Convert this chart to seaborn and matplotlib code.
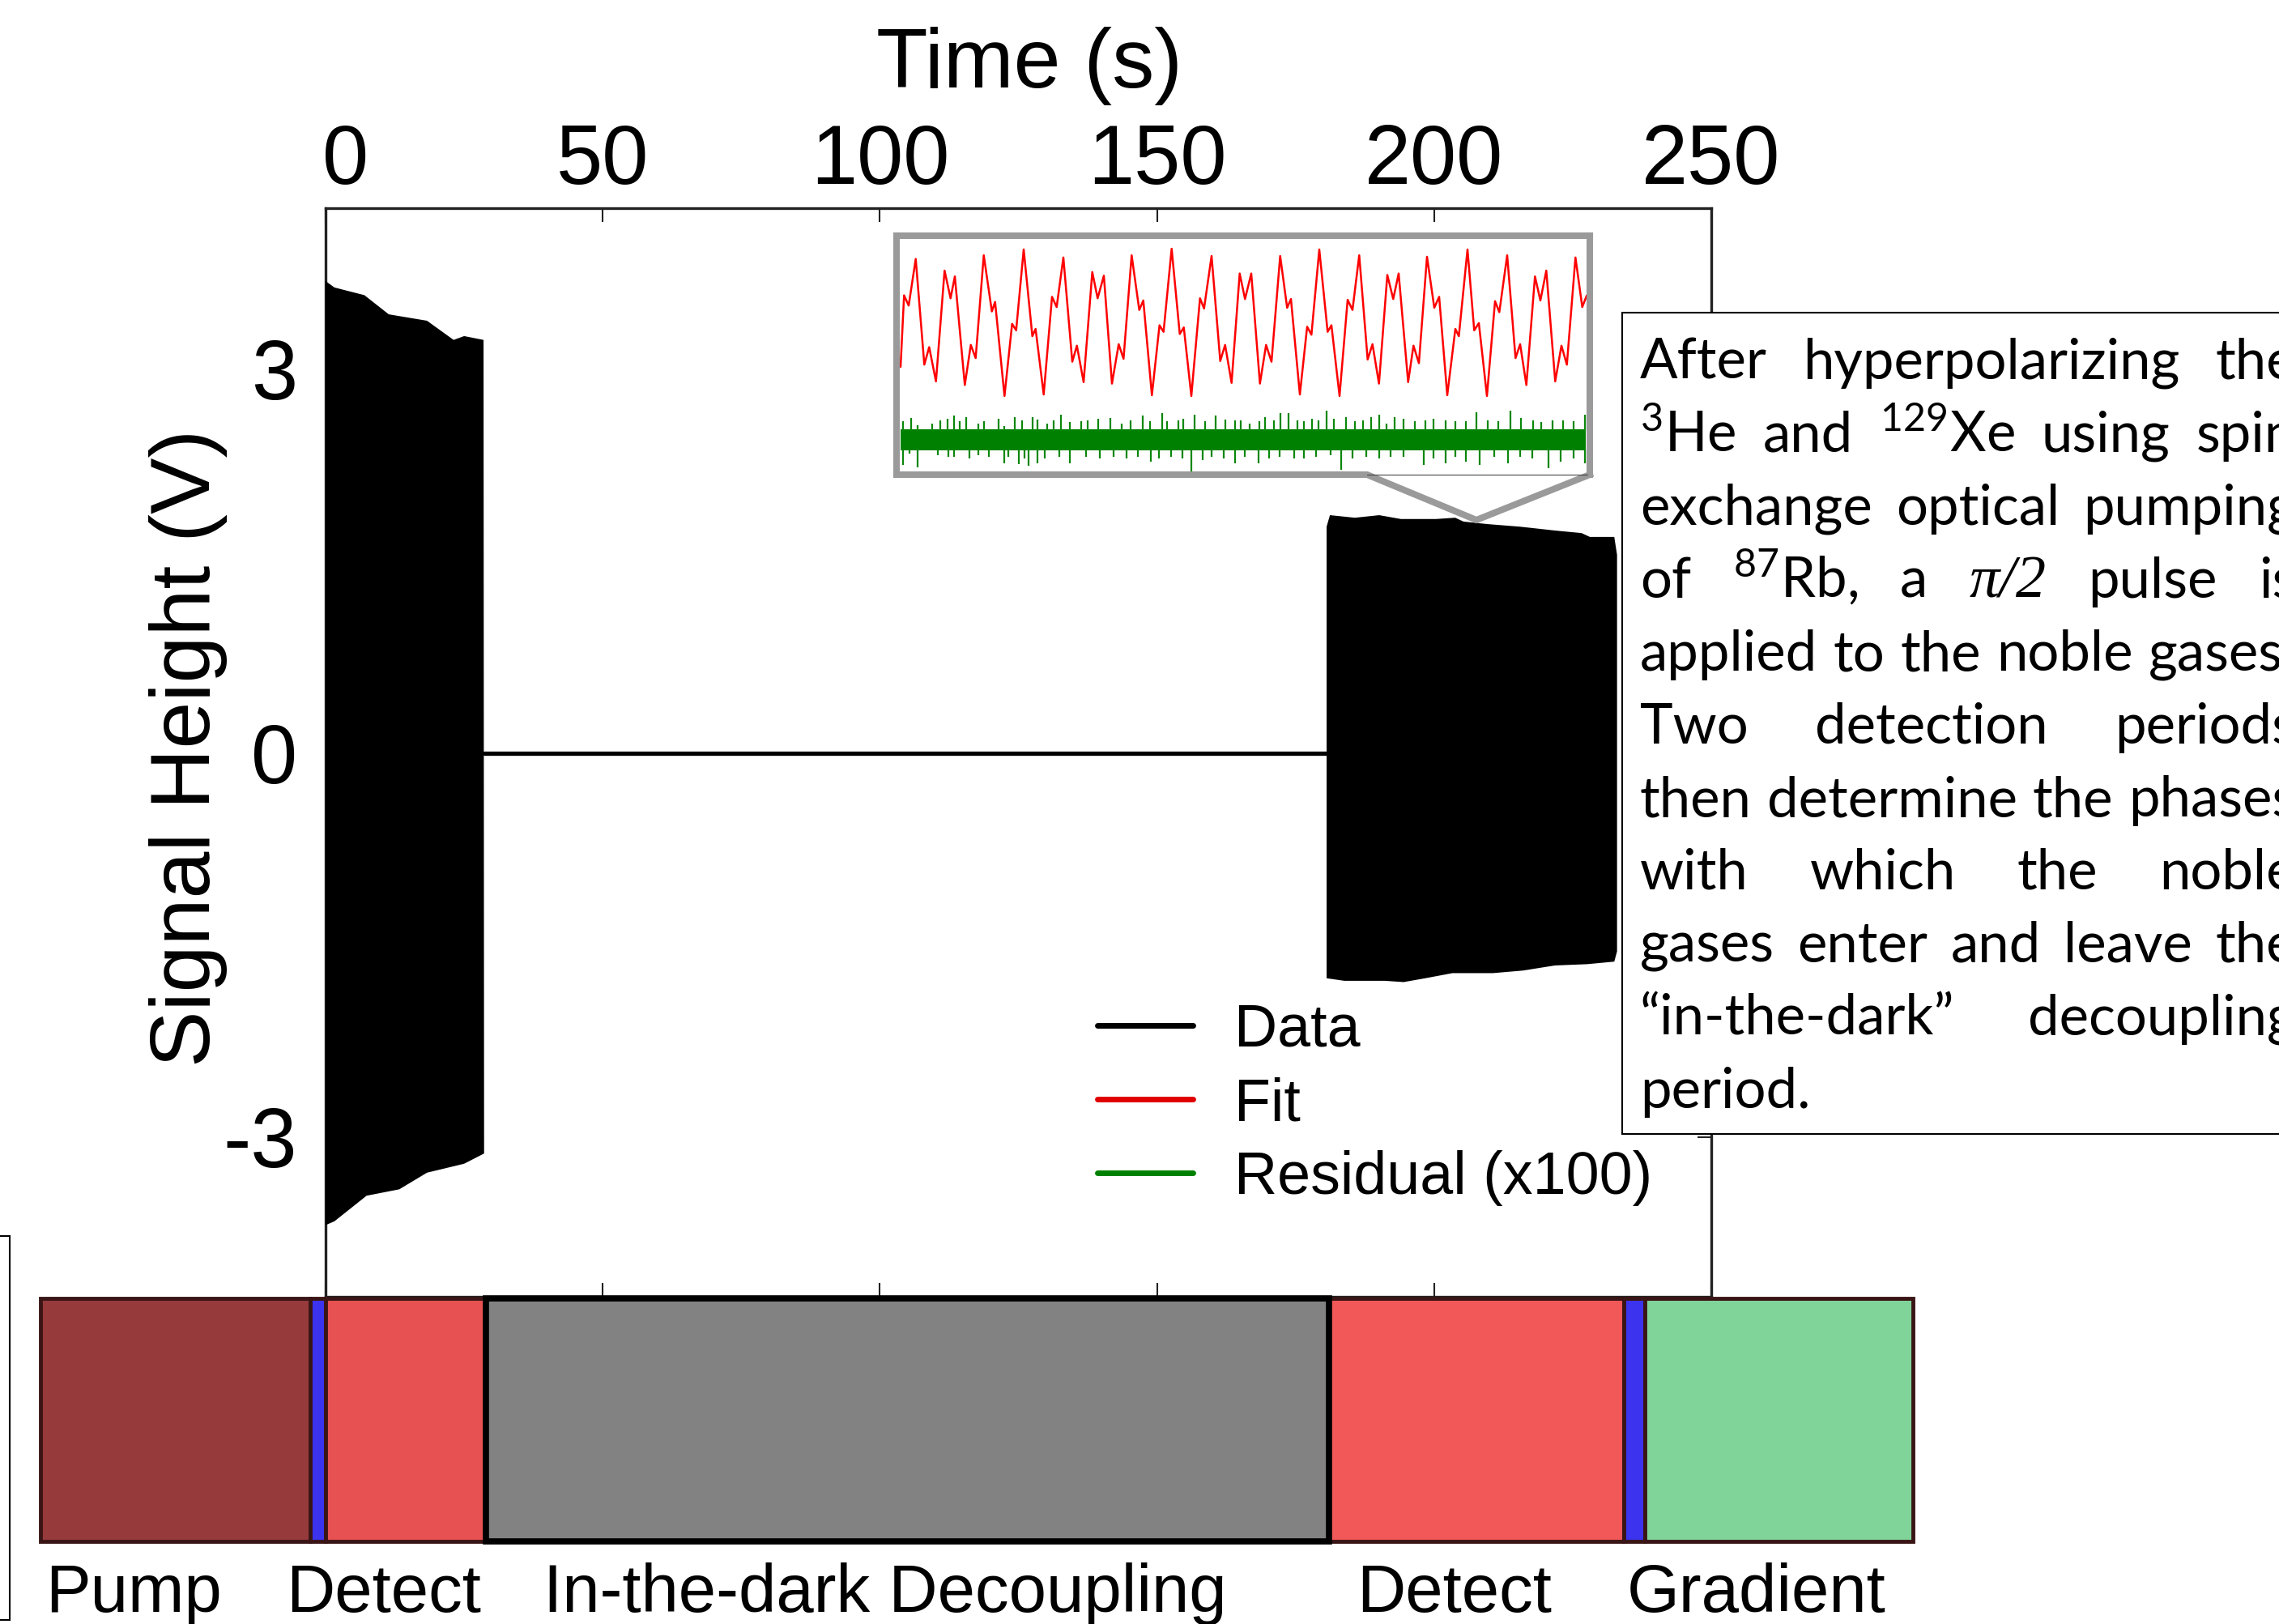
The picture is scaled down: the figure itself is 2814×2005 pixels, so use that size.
import numpy as np
import pandas as pd
import matplotlib.pyplot as plt
import seaborn as sns
from matplotlib.lines import Line2D
from matplotlib.patches import Rectangle
from matplotlib.transforms import ScaledTranslation

# ---------------- data ----------------
# envelope of the first detection window (time s, signal V)
det1_top_t = [0.0, 1.6, 7.0, 11.4, 18.3, 23.1, 25.0, 28.5]
det1_top_v = [3.69, 3.64, 3.58, 3.43, 3.38, 3.23, 3.26, 3.23]
det1_bot_t = [0.0, 1.6, 7.4, 13.3, 18.3, 25.0, 28.6]
det1_bot_v = [-3.69, -3.66, -3.46, -3.41, -3.28, -3.21, -3.13]

# in-the-dark period: flat line
dark_t = [28.6, 180.8]
dark_v = [0.0, 0.0]

# envelope of the second detection window
det2_top_t = [180.6, 181.2, 185.7, 190.1, 194.0, 200.3, 203.8, 205.3, 209.7,
              215.5, 221.8, 226.6, 228.1, 232.5, 233.0]
det2_top_v = [1.77, 1.86, 1.84, 1.86, 1.83, 1.83, 1.84, 1.81, 1.79,
              1.77, 1.74, 1.72, 1.69, 1.69, 1.55]
det2_bot_t = [180.6, 183.8, 191.1, 194.5, 198.4, 203.3, 210.6, 216.0, 221.8,
              227.6, 232.5, 233.0]
det2_bot_v = [-1.76, -1.78, -1.78, -1.79, -1.76, -1.72, -1.72, -1.70, -1.66,
              -1.65, -1.63, -1.55]

# inset: fit curve (extrema, time ms, arb. units)
fit_t = [0, 4.3, 10, 18.7, 29.3, 35.3, 43.7, 54.3, 61.7, 67, 79.3, 86.7, 92.7,
         102.7, 112.7, 116.7, 128.3, 137.7, 142.7, 152, 162.7, 166.7, 176.7,
         187, 192.7, 201, 212, 217.7, 226, 236.7, 243.3, 251, 261, 269.3, 275.3,
         285.3, 294.7, 299.7, 310.3, 319.7, 324.7, 334.7, 344.7, 349.7, 359,
         369.7, 374.7, 384, 394.7, 400.7, 408.7, 418.7, 425.3, 433, 443.7,
         451.3, 458, 468.7, 477.3, 482, 493, 502, 507.3, 517, 527.3, 532, 542,
         552, 558,
         566.3, 576.7, 582.7, 590.7, 601, 608.3, 615, 626.7, 633.3, 640, 650,
         659, 665, 675, 685, 689.3, 700, 708.3, 714, 724, 734, 739.3, 749,
         759.3, 765, 772.7, 783.3, 790, 797.3, 808.3, 816, 822.7, 833.3, 841.7,
         847.3]
fit_v = [-0.61, 0.37, 0.23, 0.87, -0.58, -0.34, -0.81, 0.71, 0.33, 0.63, -0.86,
         -0.31, -0.49, 0.92, 0.15, 0.28, -1.01, -0.02, -0.11, 1.00, -0.19, -0.09,
         -0.99, 0.35, 0.21, 0.89, -0.54, -0.32, -0.82, 0.69, 0.33, 0.64, -0.84,
         -0.30, -0.50,
         0.92, 0.17, 0.30, -1.00, -0.04, -0.13, 1.01, -0.16, -0.07, -1.01, 0.33,
         0.19, 0.91, -0.53, -0.31, -0.83, 0.67, 0.32, 0.67, -0.84, -0.31, -0.54,
         0.91, 0.20, 0.32, -0.99, -0.06, -0.17, 1.00, -0.13, -0.04, -1.01, 0.31,
         0.17,
         0.92, -0.51, -0.30, -0.84, 0.65, 0.32, 0.67, -0.82, -0.32, -0.56, 0.90,
         0.20, 0.35, -1.00, -0.09, -0.19, 1.00, -0.11, -0.01, -1.01, 0.29, 0.14,
         0.92, -0.49, -0.30, -0.86, 0.63, 0.30, 0.71, -0.81, -0.32, -0.58, 0.89,
         0.21, 0.37]

# inset: residual (x100), spike tips above and below the band
res_up_t = [3.3, 13.3, 21, 39.3, 49.3, 57.7, 66, 73.3, 81, 96, 102.7, 121, 127.7,
            141, 150, 162.7, 169.3, 181, 189.3, 197.7, 209.3, 222.7, 231, 244.3,
            259.3, 272.7, 284.3, 299.3, 307.7, 322.7, 329.3, 342.7, 349.3, 362.7,
            376, 389.3, 401, 412.7, 419.7, 431.3, 443, 449.7, 461.3, 468.7, 478.7,
            489.7, 498, 508, 516.3, 526.3, 534.7, 549.7, 561.3, 571.3, 581.3,
            591.3, 599.7, 609.7, 621.3, 634.7, 648, 658, 673, 684.7, 698, 710.7,
            724.7, 738, 753, 766.3, 781.3, 791.3, 804.7, 818, 831.3, 844.7]
res_up_v = [-1.36, -1.31, -1.41, -1.39, -1.34, -1.32, -1.28, -1.36, -1.30, -1.39,
            -1.36, -1.32, -1.42, -1.30, -1.34, -1.30, -1.33, -1.39, -1.34, -1.27,
            -1.37, -1.36, -1.35, -1.32, -1.31, -1.39, -1.34, -1.28, -1.36, -1.24,
            -1.36, -1.34, -1.32, -1.27, -1.36, -1.28, -1.33, -1.34, -1.34, -1.39,
            -1.36, -1.30, -1.34, -1.25, -1.24, -1.34, -1.36, -1.32, -1.34, -1.21,
            -1.32, -1.30, -1.36, -1.34, -1.30, -1.27, -1.39, -1.30, -1.32, -1.36,
            -1.34, -1.32, -1.34, -1.36, -1.36, -1.23, -1.34, -1.36, -1.21, -1.31,
            -1.34, -1.37, -1.34, -1.34, -1.36, -1.27]
res_lo_t = [2.7, 11, 21, 46, 59.3, 66, 85.3, 96, 109.3, 127.7, 132.7, 146, 152.7,
            157.7, 169.3, 177.7, 196, 209.3, 229.3, 246, 262.7, 279.3, 292.7,
            309.3, 319.3, 334.3, 347.7, 359.3, 372.7, 384.3, 399.3, 412.7, 424.7,
            442, 454.7, 468, 486.3, 498, 513, 531.3, 544, 558, 574.7, 591.3,
            604.7, 621.3, 646.3, 658, 673, 684.7, 698, 714.7, 733, 749.7, 764.7,
            779.7, 799.7, 814.7, 831.3, 844.7]
res_lo_v = [-1.96, -1.80, -1.99, -1.82, -1.84, -1.85, -1.87, -1.82, -1.84, -1.93,
            -1.84, -1.94, -1.87, -1.97, -1.93, -1.87, -1.84, -1.93, -1.84, -1.87,
            -1.84, -1.87, -1.84, -1.91, -1.87, -1.85, -1.87, -2.04, -1.89, -1.85,
            -1.87, -1.93, -1.84, -1.93, -1.87, -1.85, -1.87, -1.87, -1.84, -1.82,
            -2.02, -1.87, -1.85, -1.87, -1.84, -1.85, -1.96, -1.87, -1.93, -1.85,
            -1.91, -1.96, -1.85, -1.93, -1.84, -1.87, -2.00, -1.91, -1.87, -1.93]
res_core_t = [0, 846]
res_core_hi = [-1.47, -1.47]
res_core_lo = [-1.76, -1.76]

# sequence bar (s)
phase_names = ["Pump", "", "Detect", "In-the-dark Decoupling", "Detect", "", "Gradient"]
phase_start = [-51.4, -2.8, 0.0, 28.9, 181.0, 234.2, 238.0]
phase_end = [-2.8, 0.0, 28.9, 181.0, 234.2, 238.0, 286.4]
phase_colors = ["#973a3c", "#3b33ee", "#e85151", "#828282", "#f25858", "#3b33ee", "#80d49a"]

xtick_vals = [0, 50, 100, 150, 200, 250]
ytick_vals = [-3, 0, 3]
ytick_labels = ["-3", "0", "3"]

legend_labels = ["Data", "Fit", "Residual (x100)"]
legend_colors = ["black", "#e00000", "#008000"]

box_lines = [
    "After hyperpolarizing the",
    r"$^{3}$He and $^{129}$Xe using spin",
    "exchange optical pumping",
    r"of $^{87}$Rb, a π/2 pulse is",
    "applied to the noble gases.",
    "Two detection periods",
    "then determine the phases",
    "with which the noble",
    "gases enter and leave the",
    "“in-the-dark” decoupling",
    "period.",
]

# ---------------- style ----------------
sns.set_theme(style="white")
plt.rcParams["font.family"] = ["Liberation Sans", "DejaVu Sans"]
plt.rcParams["axes.unicode_minus"] = False
plt.rcParams["text.color"] = "black"
plt.rcParams["axes.labelcolor"] = "black"
plt.rcParams["xtick.color"] = "black"
plt.rcParams["ytick.color"] = "black"
plt.rcParams["mathtext.fontset"] = "custom"
plt.rcParams["mathtext.rm"] = "Lato"
plt.rcParams["mathtext.it"] = "Lato:italic"
plt.rcParams["mathtext.bf"] = "Lato:bold"

W_PX, H_PX = 2814, 2005


def fx(x):
    return x / W_PX


def fy(y):
    return 1 - y / H_PX


fig = plt.figure(figsize=(W_PX / 100, H_PX / 100), dpi=100)
fig.patch.set_facecolor("white")

# ---------------- main axes ----------------
ax = fig.add_axes([fx(402), fy(1601), (2113 - 402) / W_PX, (1601 - 257) / H_PX])

ax.fill(det1_top_t + det1_bot_t[::-1], det1_top_v + det1_bot_v[::-1],
        color="black", lw=0, zorder=3)
ax.fill(det2_top_t + det2_bot_t[::-1], det2_top_v + det2_bot_v[::-1],
        color="black", lw=0, zorder=3)
sns.lineplot(x=dark_t, y=dark_v, ax=ax, color="black", lw=3.8, zorder=3)

ax.set_xlim(0, 250)
ax.set_ylim(-4.25, 4.26)
ax.set_xticks(xtick_vals)
ax.set_yticks(ytick_vals)
ax.set_yticklabels(ytick_labels)
ax.tick_params(axis="both", direction="in", length=12, width=1.5, color="#222222",
               top=True, bottom=True, left=True, right=True,
               labeltop=True, labelbottom=False, labelsize=74)
ax.tick_params(axis="x", pad=6)
ax.tick_params(axis="y", pad=25)
for sp in ax.spines.values():
    sp.set_linewidth(2.4)
    sp.set_color("#222222")
# the "0" label sits a little right of its tick in the original
zero_lbl = ax.get_xticklabels()[0]
zero_lbl.set_transform(zero_lbl.get_transform() + ScaledTranslation(0.25, 0, fig.dpi_scale_trans))

ax.xaxis.set_label_position("top")
ax.set_xlabel("Time (s)", fontsize=75)
ax.xaxis.set_label_coords(0.5077, 1.111)
ax.set_ylabel("Signal Height (V)", fontsize=75)
ax.yaxis.set_label_coords(-0.071, 0.504)

# sequence bar under the trace
durations = [e - s for s, e in zip(phase_start, phase_end)]
bars = ax.barh(y=-5.21, width=durations, left=phase_start, height=1.90,
               color=phase_colors, edgecolor="#3a1515", linewidth=3.5,
               clip_on=False, zorder=6)
dark_bar = bars[phase_names.index("In-the-dark Decoupling")]
dark_bar.set_edgecolor("black")
dark_bar.set_linewidth(5.5)
dark_bar.set_zorder(7)
for name, s, e in zip(phase_names, phase_start, phase_end):
    if not name:
        continue
    if name == "Pump":
        ax.text(s + 0.8, -6.71, name, ha="left", va="baseline", fontsize=60, clip_on=False)
    else:
        ax.text((s + e) / 2 - 4, -6.71, name, ha="center", va="baseline",
                fontsize=60, clip_on=False)

handles = [Line2D([0], [0], color=c, lw=5) for c in legend_colors]
ax.legend(handles, legend_labels, loc="upper left", frameon=False,
          bbox_to_anchor=(fx(1355), fy(1238)), bbox_transform=fig.transFigure,
          borderpad=0, borderaxespad=0, handlelength=1.6, handletextpad=0.7,
          labelspacing=0.30, fontsize=53)

# ---------------- inset ----------------
ins = fig.add_axes([fx(1107), fy(586), (1963 - 1107) / W_PX, (586 - 290.5) / H_PX])
ins.set_facecolor("white")
ins.fill_between(res_core_t, res_core_lo, res_core_hi, color="#008000", lw=0)
ins.vlines(res_up_t, res_core_hi[0] - 0.02, res_up_v, color="#0a870a", lw=1.6)
ins.vlines(res_lo_t, res_core_lo[0] + 0.02, res_lo_v, color="#0a870a", lw=1.6)
sns.lineplot(x=fit_t, y=fit_v, ax=ins, color="#ff0000", lw=1.8,
             estimator=None, sort=False)
ins.set_xlim(-5, 851)
ins.set_ylim(-2.089, 1.194)
ins.set(xlabel="", ylabel="", xticks=[], yticks=[])
for sp in ins.spines.values():
    sp.set_linewidth(5.8)
    sp.set_color("#9a9a9a")
    sp.set_capstyle("projecting")
ins.spines["bottom"].set_visible(False)

# callout under the inset
fig.add_artist(Line2D([fx(1107), fx(1688), fx(1823), fx(1963)],
                      [fy(586), fy(586), fy(642), fy(586)],
                      transform=fig.transFigure, color="#9a9a9a", lw=5.8,
                      solid_joinstyle="miter", solid_capstyle="projecting", zorder=6))
fig.add_artist(Line2D([fx(1688), fx(1960)], [fy(586), fy(586)],
                      transform=fig.transFigure, color="#444444", lw=0.8, zorder=6))

# ---------------- text box on the right ----------------
fig.add_artist(Rectangle((fx(2003), fy(1400)), (2950 - 2003) / W_PX, (1400 - 386) / H_PX,
                         transform=fig.transFigure, facecolor="white",
                         edgecolor="black", lw=1.5, zorder=10))
# fragment of a box cut at the left edge
fig.add_artist(Rectangle((fx(-60), fy(2000)), 71.5 / W_PX, (2000 - 1526) / H_PX,
                         transform=fig.transFigure, facecolor="none",
                         edgecolor="black", lw=1.5, zorder=10))

renderer = fig.canvas.get_renderer()
x_left, x_right = 2025, 2835


def word_text(word, size):
    if word == "π/2":
        return fig.text(0, 0, word, fontsize=size * 1.08, family="Liberation Serif",
                        style="italic", va="baseline", zorder=11)
    return fig.text(0, 0, word, fontsize=size, family=["Lato", "DejaVu Sans"],
                    va="baseline", zorder=11)


# pick the size so that the widest justified line just fits
probe = 40
widest = 0
for line in box_lines[:-1]:
    t = word_text(line, probe)
    widest = max(widest, t.get_window_extent(renderer).width)
    t.remove()
box_size = probe * (x_right - x_left) * 0.995 / widest

for i, line in enumerate(box_lines):
    base = 468 + 90 * i
    words = line.split(" ")
    items = [word_text(w, box_size) for w in words]
    widths = [it.get_window_extent(renderer).width for it in items]
    if i == len(box_lines) - 1 or len(words) == 1:
        gap = items[0].get_window_extent(renderer).height * 0.25
    else:
        gap = (x_right - x_left - sum(widths)) / (len(words) - 1)
    x = x_left
    for it, w in zip(items, widths):
        it.set_position((fx(x), fy(base)))
        x += w + gap

fig.savefig("out.png", dpi=100, facecolor="white")
